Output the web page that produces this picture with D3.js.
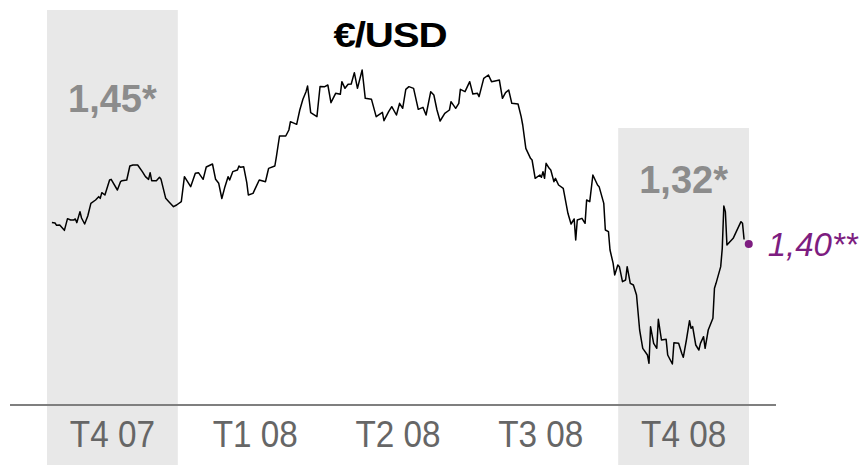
<!DOCTYPE html>
<html>
<head>
<meta charset="utf-8">
<script src="https://cdn.jsdelivr.net/npm/d3@7"></script>
<style>
  body { margin: 0; background: #fff; }
  svg { display: block; }
</style>
</head>
<body>
<svg id="chart" width="866" height="465"></svg>
<script>
// quarters on the x axis, and which ones are shaded with their average
const quarters = ["T4 07", "T1 08", "T2 08", "T3 08", "T4 08"];
const shadedQuarters = ["T4 07", "T4 08"];
const shadedLabels = ["1,45*", "1,32*"];

// EUR/USD, days counted from 1 Oct 2007
const days = [
  7, 9, 10, 12, 15, 17, 19, 21, 22, 23, 25, 26, 28, 30, 32, 35, 37, 38, 39, 41,
  44, 45, 49, 51, 52, 55, 57, 59, 62, 65, 67, 69, 70, 71, 74, 76, 77, 80, 82, 85,
  87, 90, 92, 96, 99, 101, 104, 106, 110, 112, 114, 116, 118, 120, 121, 123, 126, 127, 128, 130,
  132, 133, 136, 138, 140, 144, 145, 146, 150, 151, 153, 157, 159, 160, 164, 166, 168, 170, 171, 173,
  177, 179, 182, 184, 186, 189, 192, 193, 195, 197, 199, 201, 203, 206, 208, 212, 215, 219, 220, 223,
  225, 228, 230, 232, 234, 236, 239, 242, 245, 247, 250, 252, 254, 256, 259, 262, 263, 266, 268, 269,
  272, 275, 277, 280, 281, 284, 287, 289, 292, 294, 296, 298, 300, 302, 306, 308, 309, 311, 314, 315,
  317, 320, 321, 322, 323, 324, 326, 327, 329, 330, 332, 335, 338, 340, 342, 343, 344, 347, 349, 350,
  352, 354, 357, 358, 361, 362, 364, 365, 367, 368, 370, 371, 373, 375, 376, 378, 380, 382, 384, 386,
  389, 390, 391, 393, 395, 396, 398, 401, 402, 405, 406, 409, 411, 412, 414, 416, 417, 418, 420, 422,
  423, 425, 426, 428, 431, 432, 433, 436, 437, 438, 439, 440, 444, 446, 449, 450, 451
];
const rates = [
  1.4158, 1.4152, 1.4124, 1.4128, 1.4064, 1.4204, 1.4188, 1.4188, 1.4200, 1.4156,
  1.4288, 1.4212, 1.4140, 1.4236, 1.4388, 1.4428, 1.4468, 1.4448, 1.4516, 1.4488,
  1.4668, 1.4676, 1.4548, 1.4648, 1.4660, 1.4668, 1.4836, 1.4848, 1.4848, 1.4768,
  1.4708, 1.4676, 1.4756, 1.4660, 1.4660, 1.4700, 1.4676, 1.4448, 1.4408, 1.4348,
  1.4368, 1.4408, 1.4708, 1.4588, 1.4748, 1.4756, 1.4676, 1.4824, 1.4860, 1.4676,
  1.4628, 1.4446, 1.4588, 1.4708, 1.4668, 1.4768, 1.4788, 1.4836, 1.4820, 1.4828,
  1.4636, 1.4488, 1.4508, 1.4588, 1.4668, 1.4648, 1.4728, 1.4808, 1.4836, 1.4948,
  1.5196, 1.5196, 1.5268, 1.5368, 1.5336, 1.5508, 1.5636, 1.5728, 1.5796, 1.5476,
  1.5428, 1.5790, 1.5788, 1.5808, 1.5596, 1.5708, 1.5696, 1.5848, 1.5768, 1.5816,
  1.5820, 1.5956, 1.5768, 1.5988, 1.5648, 1.5636, 1.5428, 1.5480, 1.5380, 1.5488,
  1.5548, 1.5448, 1.5588, 1.5528, 1.5756, 1.5788, 1.5768, 1.5516, 1.5540, 1.5448,
  1.5728, 1.5688, 1.5508, 1.5376, 1.5468, 1.5508, 1.5608, 1.5528, 1.5588, 1.5756,
  1.5728, 1.5848, 1.5700, 1.5708, 1.5668, 1.5888, 1.5928, 1.5848, 1.5860, 1.5868,
  1.5648, 1.5716, 1.5748, 1.5588, 1.5580, 1.5428, 1.5328, 1.5048, 1.4928, 1.4908,
  1.4688, 1.4728, 1.4700, 1.4768, 1.4688, 1.4868, 1.4808, 1.4788, 1.4648, 1.4688,
  1.4608, 1.4568, 1.4268, 1.4140, 1.4200, 1.3948, 1.4188, 1.4208, 1.4148, 1.4428,
  1.4408, 1.4728, 1.4608, 1.4588, 1.4388, 1.4068, 1.4048, 1.3828, 1.3668, 1.3528,
  1.3648, 1.3628, 1.3448, 1.3468, 1.3628, 1.3428, 1.3408, 1.3288, 1.2868, 1.2648,
  1.2568, 1.2468, 1.2908, 1.2708, 1.2648, 1.2996, 1.2748, 1.2756, 1.2568, 1.2460,
  1.2716, 1.2708, 1.2588, 1.2540, 1.2748, 1.2980, 1.2888, 1.2908, 1.2688, 1.2628,
  1.2708, 1.2788, 1.2648, 1.2868, 1.3008, 1.3368, 1.3428, 1.3628, 1.3848, 1.4356,
  1.4288, 1.3888, 1.3968, 1.4048, 1.4168, 1.4148, 1.3954
];

// forecast marker
const forecastDay = 454;
const forecastRate = 1.39;
const forecastLabel = "1,40**";

const title = "€/USD";

const svg = d3.select("#chart");
const start = new Date(2007, 9, 1);
const end = new Date(2009, 0, 1);

const x = d3.scaleTime().domain([start, end]).range([41, 755]);
const xq = d3.scaleBand().domain(quarters).range([41, 755])
    .paddingInner(0.084).paddingOuter(0.042);
const y = d3.scaleLinear().domain([1.24, 1.60]).range([369, 69]);

const bandTop = { "T4 07": 10, "T4 08": 128 };
const labelBaseline = { "T4 07": 112, "T4 08": 193 };

// shaded quarters
svg.append("g").selectAll("rect")
  .data(shadedQuarters)
  .join("rect")
    .attr("x", d => xq(d))
    .attr("y", d => bandTop[d])
    .attr("width", xq.bandwidth())
    .attr("height", d => 465 - bandTop[d])
    .attr("fill", "#e8e8e8");

svg.append("g").selectAll("text")
  .data(shadedQuarters)
  .join("text")
    .attr("x", d => xq(d) + xq.bandwidth() / 2)
    .attr("y", d => labelBaseline[d])
    .attr("text-anchor", "middle")
    .attr("font-family", "Liberation Sans, Arial, sans-serif")
    .attr("font-weight", "bold")
    .attr("font-size", 38)
    .attr("fill", "#8c8c8c")
    .text((d, i) => shadedLabels[i]);

// axis
svg.append("line")
  .attr("x1", 10).attr("x2", 776)
  .attr("y1", 405).attr("y2", 405)
  .attr("stroke", "#7f7f7f")
  .attr("stroke-width", 2);

const axis = svg.append("g")
  .attr("transform", "translate(0,405)")
  .call(d3.axisBottom(xq).tickSize(0).tickPadding(0));
axis.select(".domain").remove();
// labels look condensed in the original, so squeeze them a bit
axis.selectAll("text")
  .attr("y", 42)
  .attr("dy", null)
  .attr("transform", "scale(0.9,1)")
  .attr("font-family", "Liberation Sans, Arial, sans-serif")
  .attr("font-size", 37)
  .attr("fill", "#666");
axis.selectAll(".tick")
  .attr("transform", d => `translate(${xq(d) + xq.bandwidth() / 2},0)`);

// the rate line
const points = days.map((d, i) => [d3.timeDay.offset(start, d), rates[i]]);
const line = d3.line()
  .x(d => x(d[0]))
  .y(d => y(d[1]));

svg.append("path")
  .datum(points)
  .attr("d", line)
  .attr("fill", "none")
  .attr("stroke", "#000")
  .attr("stroke-width", 1.5)
  .attr("stroke-linejoin", "round");

// forecast
const fx = x(d3.timeDay.offset(start, forecastDay));
const fy = y(forecastRate);
svg.append("circle")
  .attr("cx", fx).attr("cy", fy).attr("r", 4)
  .attr("fill", "#7d1d80");
svg.append("text")
  .attr("x", fx + 19)
  .attr("y", fy + 12)
  .attr("font-family", "Liberation Sans, Arial, sans-serif")
  .attr("font-style", "italic")
  .attr("font-size", 33)
  .attr("fill", "#7d1d80")
  .text(forecastLabel);

// title
svg.append("text")
  .attr("transform", "translate(390,47) scale(1.12,1)")
  .attr("text-anchor", "middle")
  .attr("font-family", "Liberation Sans, Arial, sans-serif")
  .attr("font-weight", "bold")
  .attr("font-size", 36)
  .attr("letter-spacing", -1)
  .attr("fill", "#000")
  .text(title);
</script>
</body>
</html>
